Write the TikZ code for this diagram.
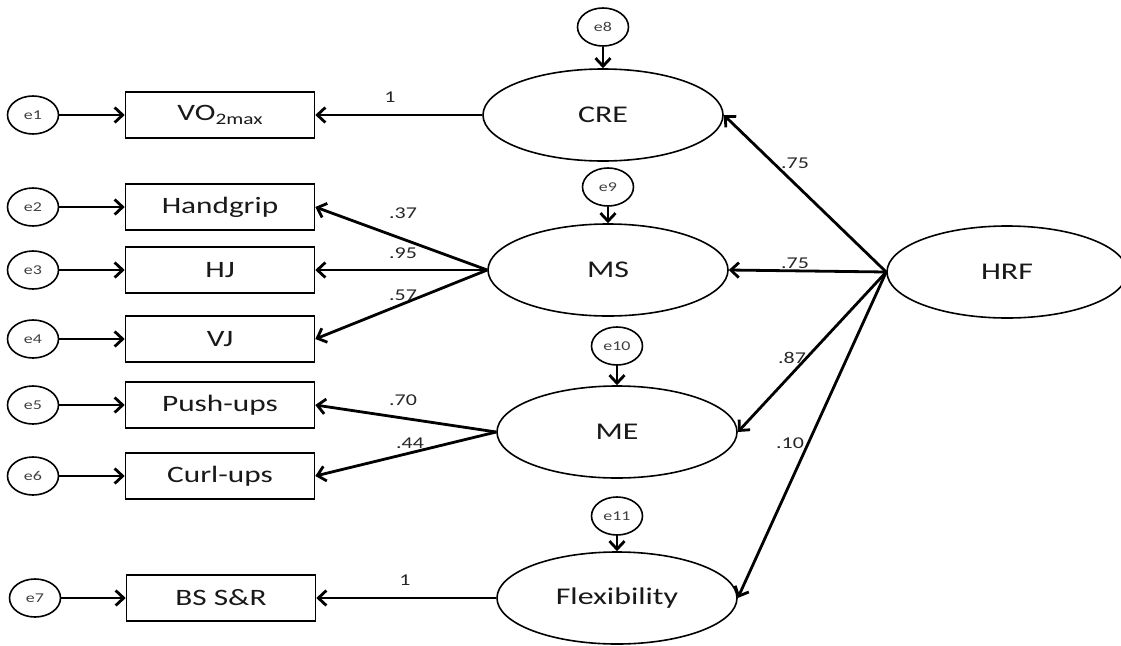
\documentclass[tikz,border=0pt]{standalone}
\usepackage{fontspec}
\setmainfont{Carlito}[FakeStretch=1.33]
\usetikzlibrary{arrows.meta,shapes.geometric}
\tikzset{
  err/.style={ellipse, draw, line width=1.6pt, minimum width=51pt, minimum height=38pt, inner sep=0pt, font=\fontsize{13.5}{13.5}\selectfont, text=black!75},
  obs/.style={rectangle, draw, line width=1.6pt, minimum width=189pt, minimum height=46pt, inner sep=0pt, font=\fontsize{23.5}{23.5}\selectfont, text=black!90},
  lat/.style={ellipse, draw, line width=1.6pt, minimum width=240pt, minimum height=92pt, inner sep=0pt, font=\fontsize{24}{24}\selectfont, text=black!90},
  arr/.style={line width=2.8pt, -{Straight Barb[length=8pt,width=15pt]}},
  lab/.style={font=\fontsize{16.5}{16.5}\selectfont, text=black!85, inner sep=0pt}
}
\begin{document}
\begin{tikzpicture}[x=1pt,y=-1pt]
\useasboundingbox (0,0) rectangle (1121,645);
% error terms of indicators
\node[err] (e1) at (33,115) {e1};
\node[err] (e2) at (33,207) {e2};
\node[err] (e3) at (33,270) {e3};
\node[err] (e4) at (33,339) {e4};
\node[err] (e5) at (33,405) {e5};
\node[err] (e6) at (33,476) {e6};
\node[err] (e7) at (35,598) {e7};
% indicators
\node[obs] (vo) at (220,115) {VO\raisebox{-0.4ex}{\fontsize{16}{16}\selectfont 2max}};
\node[obs] (hg) at (220,207) {Handgrip};
\node[obs] (hj) at (220,270) {HJ};
\node[obs] (vj) at (220,339) {VJ};
\node[obs] (pu) at (220,405) {Push-ups};
\node[obs] (cu) at (220,476) {Curl-ups};
\node[obs] (bs) at (221,598) {BS S\&R};
% latent factors
\node[lat] (cre) at (603,115) {CRE};
\node[lat] (ms) at (608,270) {MS};
\node[lat] (me) at (617,432) {ME};
\node[lat] (fl) at (617,598) {Flexibility};
\node[lat] (hrf) at (1007,272) {HRF};
% disturbances
\node[err] (e8) at (603,27) {e8};
\node[err] (e9) at (608,187) {e9};
\node[err] (e10) at (617,346) {e10};
\node[err] (e11) at (617,516) {e11};
% error arrows
\foreach \a/\b in {e1/vo,e2/hg,e3/hj,e4/vj,e5/pu,e6/cu,e7/bs,e8/cre,e9/ms,e10/me,e11/fl}
  \draw[arr] (\a) -- (\b);
% loadings
\draw[arr] (cre.west) -- (vo.east);
\draw[arr] (ms.west) -- (hg.east);
\draw[arr] (ms.west) -- (hj.east);
\draw[arr] (ms.west) -- (vj.east);
\draw[arr] (me.west) -- (pu.east);
\draw[arr] (me.west) -- (cu.east);
\draw[arr] (fl.west) -- (bs.east);
\draw[arr] (hrf.west) -- (cre.east);
\draw[arr] (hrf.west) -- (ms.east);
\draw[arr] (hrf.west) -- (me.east);
\draw[arr] (hrf.west) -- (fl.east);
% labels
\node[lab] (l1) at (390,97) {1};
\node[lab] (l37) at (403,213) {.37};
\node[lab] (l95) at (403,253) {.95};
\node[lab] (l57) at (403,295) {.57};
\node[lab] (l70) at (403,400) {.70};
\node[lab] (l44) at (410,443) {.44};
\node[lab] (l1b) at (405,580) {1};
\node[lab] (l75a) at (795,163) {.75};
\node[lab] (l75b) at (795,263) {.75};
\node[lab] (l87) at (792,358) {.87};
\node[lab] (l10) at (790,443) {.10};
\end{tikzpicture}
\end{document}
